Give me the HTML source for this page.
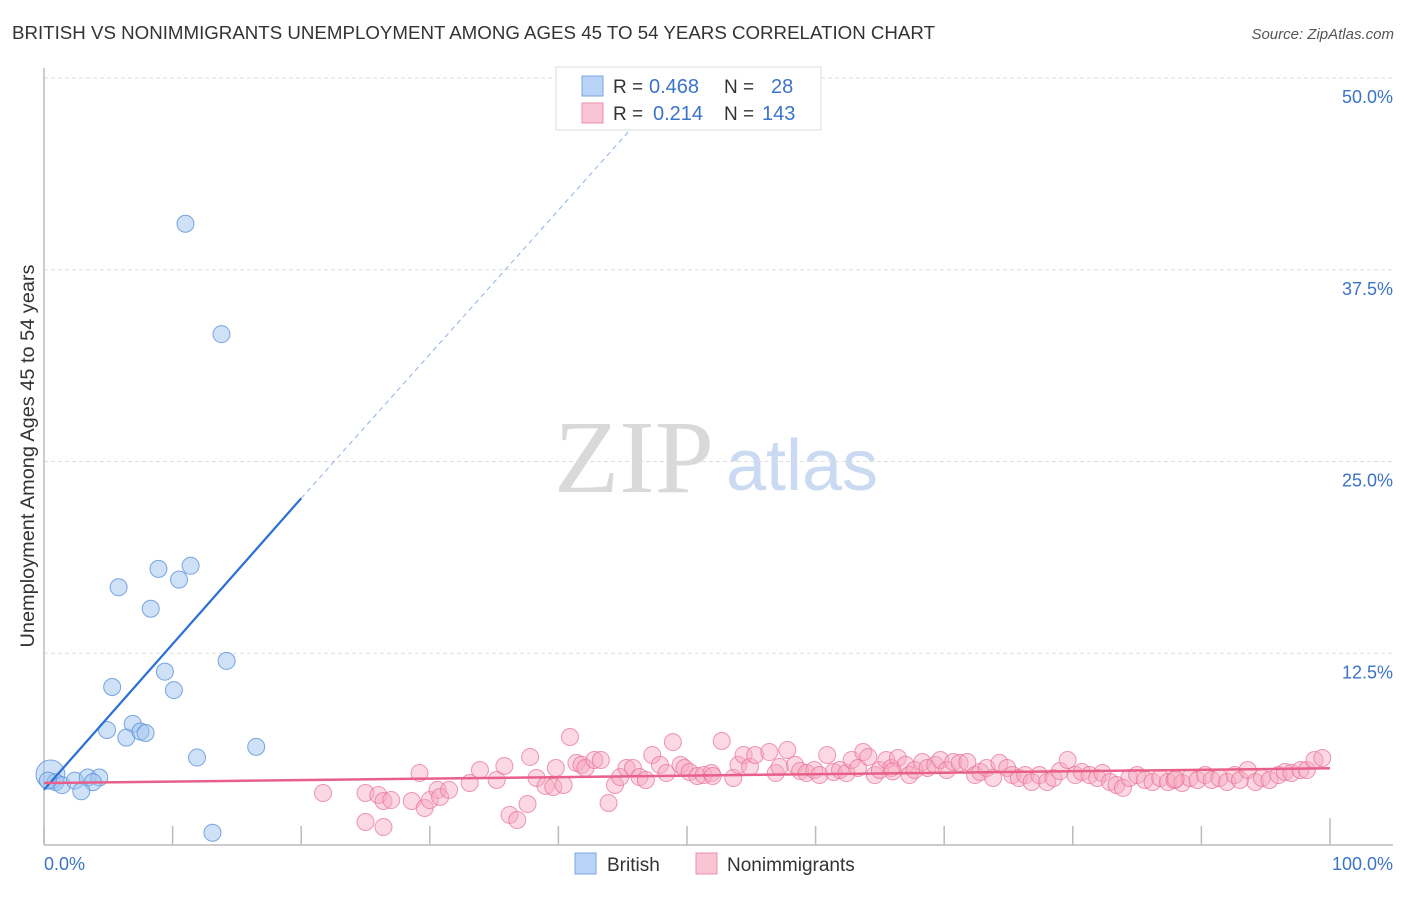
<!DOCTYPE html>
<html><head><meta charset="utf-8"><style>
body{margin:0;background:#fff;font-family:"Liberation Sans",sans-serif;}
</style></head><body>
<svg width="1406" height="892" xmlns="http://www.w3.org/2000/svg" id="chart">
<text x="12" y="39" font-size="18" fill="#333" textLength="923" lengthAdjust="spacingAndGlyphs">BRITISH VS NONIMMIGRANTS UNEMPLOYMENT AMONG AGES 45 TO 54 YEARS CORRELATION CHART</text>
<text x="1394" y="39" font-size="15" fill="#555" font-style="italic" text-anchor="end">Source: ZipAtlas.com</text>
<text x="634" y="492" font-size="104" font-family="Liberation Serif" fill="#d9d9d9" text-anchor="middle" textLength="160" lengthAdjust="spacingAndGlyphs">ZIP</text>
<text x="802" y="490" font-size="72" fill="#c9daf2" text-anchor="middle">atlas</text>
<g id="grid"></g><g id="axes"></g><g id="pink"></g><g id="blue"></g><g id="lines"></g>
<text transform="translate(34,456) rotate(-90)" font-size="19" fill="#333" text-anchor="middle" textLength="383" lengthAdjust="spacingAndGlyphs">Unemployment Among Ages 45 to 54 years</text>
<text x="44" y="870" font-size="18" fill="#3b73c8">0.0%</text>
<text x="1393" y="870" font-size="18" fill="#3b73c8" text-anchor="end">100.0%</text>
<g>
<rect x="556" y="67" width="265" height="63" fill="#fff" stroke="#ddd"/>
<rect x="582" y="76" width="21" height="20" fill="#b8d3f5" stroke="#7aa7e2"/>
<text x="613" y="93" font-size="19" fill="#333">R = </text><text x="649" y="93" font-size="20" fill="#3b73c8">0.468</text>
<text x="724" y="93" font-size="19" fill="#333">N = </text><text x="771" y="93" font-size="20" fill="#3b73c8">28</text>
<rect x="582" y="103" width="21" height="20" fill="#f9c4d4" stroke="#ec8fae"/>
<text x="613" y="120" font-size="19" fill="#333">R = </text><text x="653" y="120" font-size="20" fill="#3b73c8">0.214</text>
<text x="724" y="120" font-size="19" fill="#333">N = </text><text x="762" y="120" font-size="20" fill="#3b73c8">143</text>
</g>
<g>
<rect x="575" y="853" width="21" height="21" fill="#b8d3f5" stroke="#7aa7e2"/>
<text x="607" y="871" font-size="19" fill="#333">British</text>
<rect x="696" y="853" width="21" height="21" fill="#f9c4d4" stroke="#ec8fae"/>
<text x="727" y="871" font-size="19" fill="#333">Nonimmigrants</text>
</g>
</svg>
<script>
const yTicks=[12.5,25,37.5,50];
const yTickLabels=["12.5%","25.0%","37.5%","50.0%"];
const xTicks=[0,10,20,30,40,50,60,70,80,90,100];
const britishX=[11.0,13.8,11.4,8.9,10.5,5.8,8.3,14.2,9.4,5.3,10.1,4.9,6.9,6.4,7.5,7.9,16.5,11.9,0.5,0.9,1.4,2.4,3.4,4.3,3.8,2.9,13.1,0.3];
const britishY=[40.5,33.3,18.2,18.0,17.3,16.8,15.4,12.0,11.3,10.3,10.1,7.5,7.9,7.0,7.4,7.3,6.4,5.7,4.6,4.1,3.9,4.2,4.4,4.4,4.1,3.5,0.8,4.2];
const britishSize=[1,1,1,1,1,1,1,1,1,1,1,1,1,1,1,1,1,1,1.7,1,1,1,1,1,1,1,1,1];
const nonX=[21.7,25.0,26.0,26.4,27.0,25.0,26.4,28.6,29.2,29.6,30.0,30.6,30.8,31.5,33.1,33.9,35.2,35.8,36.2,36.8,37.6,37.8,38.3,39.0,39.8,39.6,40.4,40.9,41.4,41.8,42.1,42.8,43.3,43.9,44.4,44.8,45.3,45.8,46.3,46.8,47.3,47.9,48.4,48.9,49.5,49.8,50.2,50.8,51.3,51.9,52.7,53.6,54.0,54.4,54.9,55.3,56.4,56.9,57.2,57.8,58.4,58.8,59.3,59.9,60.3,60.9,61.4,61.9,62.4,62.8,63.3,63.7,64.1,64.6,65.0,65.5,65.9,66.4,67.0,67.3,67.7,68.3,68.7,69.3,69.7,70.2,70.7,71.2,71.8,72.4,72.8,73.3,73.8,74.3,74.9,75.3,75.8,76.3,76.8,77.4,78.0,78.5,79.0,79.6,80.2,80.7,81.3,81.9,82.3,82.9,83.4,83.9,84.4,85.0,85.6,86.2,86.8,87.4,87.9,88.5,89.1,89.7,90.3,90.8,91.4,92.0,92.6,93.0,93.6,94.2,94.7,95.3,96.0,96.5,97.0,97.7,98.2,98.8,99.4,52.0,66.0,88.0];
const nonY=[3.39,3.39,3.26,2.87,2.93,1.50,1.17,2.87,4.69,2.41,2.93,3.59,3.13,3.59,4.04,4.89,4.24,5.15,1.96,1.63,2.67,5.74,4.37,3.85,5.02,3.78,3.91,7.04,5.35,5.22,5.02,5.54,5.54,2.74,3.91,4.43,5.02,5.02,4.43,4.24,5.87,5.22,4.69,6.71,5.22,5.02,4.76,4.50,4.56,4.69,6.78,4.37,5.22,5.87,5.09,5.87,6.06,4.69,5.09,6.19,5.22,4.82,4.69,4.89,4.56,5.87,4.76,4.89,4.69,5.54,5.02,6.06,5.74,4.56,4.89,5.54,5.02,5.67,5.22,4.56,4.89,5.41,5.02,5.22,5.54,4.89,5.41,5.35,5.41,4.56,4.76,5.02,4.37,5.35,5.02,4.56,4.37,4.56,4.11,4.56,4.11,4.37,4.82,5.54,4.56,4.76,4.56,4.37,4.69,4.11,3.91,3.72,4.37,4.56,4.24,4.11,4.37,4.11,4.24,4.04,4.37,4.24,4.56,4.24,4.37,4.11,4.56,4.24,4.89,4.11,4.37,4.24,4.56,4.76,4.69,4.89,4.89,5.54,5.67,4.5,4.8,4.3];
const britishLine=[[0,3.6],[20,22.6]];
const britishDash=[[20,22.6],[46.3,47.3]];
const nonLine=[[0,4.04],[100,5.0]];
const NS='http://www.w3.org/2000/svg';
const X0=44,X1=1330,Y0=845,Y50=78;
const xs=v=>X0+(X1-X0)*v/100;
const ys=v=>Y0-(Y0-Y50)*v/50;
function mk(tag,attrs,parent){const e=document.createElementNS(NS,tag);for(const k in attrs)e.setAttribute(k,attrs[k]);document.getElementById(parent).appendChild(e);return e;}
yTicks.forEach((t,i)=>{
  const l=mk('line',{x1:44,x2:1393,y1:ys(t),y2:ys(t),stroke:'#ddd','stroke-dasharray':'4,3'},'grid');
  
  
  const tx=mk('text',{x:1393,y:ys(t)+25,'font-size':18,fill:'#3b73c8','text-anchor':'end'},'grid');
  tx.textContent=yTickLabels[i];
  
  
});
const ax=mk('line',{x1:44,x2:1393,y1:845,y2:845,stroke:'#bbb','stroke-width':1.5},'axes');


const ay=mk('line',{x1:44,x2:44,y1:68,y2:845,stroke:'#bbb','stroke-width':1.5},'axes');


xTicks.forEach(t=>{
  const l=mk('line',{x1:xs(t),x2:xs(t),y1:t===100?818:826,y2:845,stroke:'#bbb','stroke-width':1.5},'axes');
  
  
});
nonX.forEach((v,i)=>{
  const c=mk('circle',{cx:xs(v),cy:ys(nonY[i]),r:8.5,fill:'rgba(246,168,193,0.45)',stroke:'rgba(232,110,150,0.7)','stroke-width':1},'pink');
  
  
});
britishX.forEach((v,i)=>{
  const c=mk('circle',{cx:xs(v),cy:ys(britishY[i]),r:8.5*britishSize[i],fill:'rgba(160,196,240,0.5)',stroke:'rgba(90,145,220,0.8)','stroke-width':1},'blue');
  
  
});
const bl=mk('line',{x1:xs(britishLine[0][0]),y1:ys(britishLine[0][1]),x2:xs(britishLine[1][0]),y2:ys(britishLine[1][1]),stroke:'#2a6fd6','stroke-width':2.2},'lines');


const bd=mk('line',{x1:xs(britishDash[0][0]),y1:ys(britishDash[0][1]),x2:xs(britishDash[1][0]),y2:ys(britishDash[1][1]),stroke:'#8fb2e6','stroke-width':1,'stroke-dasharray':'5,4'},'lines');


const pl=mk('line',{x1:xs(nonLine[0][0]),y1:ys(nonLine[0][1]),x2:xs(nonLine[1][0]),y2:ys(nonLine[1][1]),stroke:'#e8608a','stroke-width':2.5},'lines');


</script>
</body></html>
